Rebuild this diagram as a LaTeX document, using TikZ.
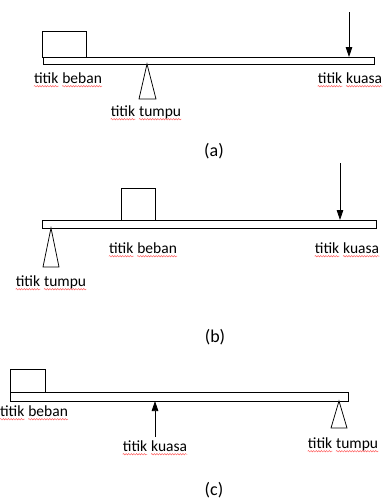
\documentclass[tikz,border=0pt]{standalone}
\usepackage{fontspec}
\setmainfont{Carlito}
\usetikzlibrary{arrows.meta,decorations.pathmorphing}

\tikzset{wave/.style={draw=red!65,line width=0.45pt,
	decorate,decoration={snake,segment length=2.6pt,amplitude=0.7pt}}}
\newcommand{\spell}[1]{\tikz[baseline=(sw.base),x=1pt,y=1pt]{%
	\node[inner sep=0pt] (sw) {#1};
	\path[wave] ([yshift=-2.6pt]sw.base west)--([yshift=-2.6pt]sw.base east);}}
\newcommand{\lbl}[2]{\spell{#1}\hspace{0.2em}\spell{#2}}

\begin{document}
\begin{tikzpicture}[x=1pt,y=-1pt,line width=0.75pt,
	beam/.style={draw,fill=white},
	load/.style={draw,fill=white},
	pivot/.style={draw,fill=white,line join=miter},
	force/.style={-{Triangle[length=10pt,width=6.5pt]}},
	word/.style={inner sep=0pt,font=\fontsize{15.5}{18}\selectfont},
	caption/.style={inner sep=0pt,font=\fontsize{18}{20}\selectfont}]
\useasboundingbox[fill=white] (0,0) rectangle (383,504);

%(a)
\draw[load] (42,31) rectangle (86,57);
\draw[beam] (43,57) rectangle (374,64);
\draw[pivot] (147,64)--(139,99)--(156,99)--cycle;
\coordinate (fa) at (349,12);
\coordinate (ha) at (349,57);
\draw[force] (fa)--(ha);
\node[word] (bebanA) at (68,80) {\lbl{titik}{beban}};
\node[word] (tumpuA) at (146,113) {\lbl{titik}{tumpu}};
\node[word] (kuasaA) at (350,80) {\lbl{titik}{kuasa}};
\node[caption] (capA) at (214,151) {(a)};

%(b)
\draw[load] (121,188) rectangle (155,220);
\draw[beam] (42,220) rectangle (376,228);
\draw[pivot] (51,228)--(43,267)--(59,267)--cycle;
\coordinate (fb) at (340,163);
\coordinate (hb) at (340,220);
\draw[force] (fb)--(hb);
\node[word] (bebanB) at (143,250) {\lbl{titik}{beban}};
\node[word] (tumpuB) at (51,283) {\lbl{titik}{tumpu}};
\node[word] (kuasaB) at (347,250) {\lbl{titik}{kuasa}};
\node[caption] (capB) at (215,337) {(b)};

%(c)
\draw[load] (10,369) rectangle (45,392);
\draw[beam] (10,392) rectangle (348,401);
\draw[pivot] (339,401)--(331,428)--(347,428)--cycle;
\coordinate (fc) at (155,437);
\coordinate (hc) at (155,401);
\draw[force] (fc)--(hc);
\node[word] (bebanC) at (34,413) {\lbl{titik}{beban}};
\node[word] (kuasaC) at (155,448) {\lbl{titik}{kuasa}};
\node[word] (tumpuC) at (343,445) {\lbl{titik}{tumpu}};
\node[caption] (capC) at (214,490) {(c)};

\end{tikzpicture}
\end{document}
